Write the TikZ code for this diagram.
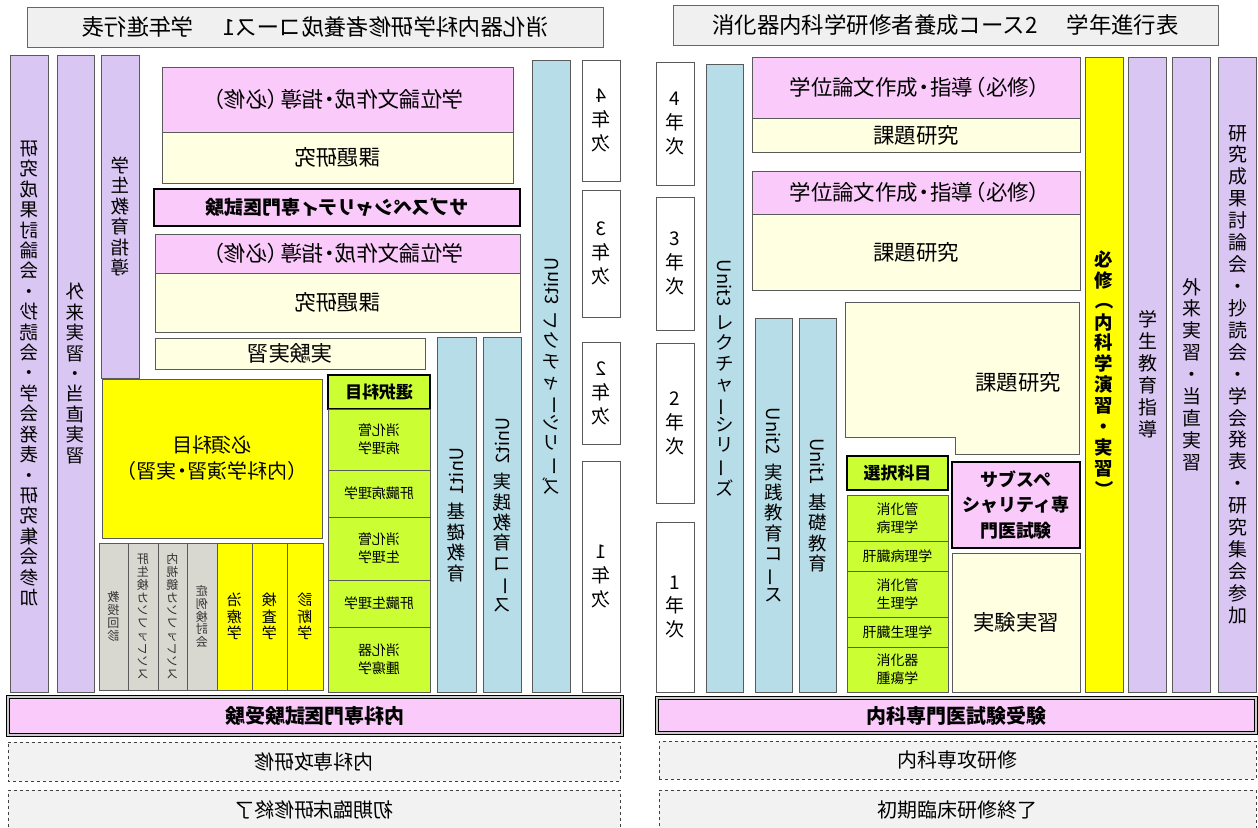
\documentclass[tikz,border=0pt]{standalone}
\usepackage{fontspec}
\setmainfont{Noto Sans CJK JP}
\usepackage{graphicx}
\definecolor{bd}{RGB}{90,90,90}
\definecolor{lav}{RGB}{218,198,242}
\definecolor{pk}{RGB}{250,202,250}
\definecolor{cr}{RGB}{255,255,226}
\definecolor{bl}{RGB}{183,221,232}
\definecolor{yl}{RGB}{255,255,0}
\definecolor{gr}{RGB}{204,255,51}
\definecolor{gy}{RGB}{216,216,208}
\definecolor{ttlc}{RGB}{240,240,240}
\newcommand\ft[2]{\fontsize{#1}{#2}\selectfont}
\newcommand\rl{\rotatebox[origin=c]{90}{ー}}
\newcommand\lp{\rotatebox[origin=c]{-90}{（}}
\newcommand\rp{\rotatebox[origin=c]{-90}{）}}
\newcommand\md{\makebox[0.55em][c]{・}}
\newcommand\hlp{\makebox[0.62em][r]{（}}
\newcommand\hrp{\makebox[0.62em][l]{）}}
\makeatletter
\def\vt@end{vt@end@marker}
\def\vt#1{\vbox{\lineskiplimit=0pt\lineskip=2pt\vt@loop#1\vt@end}}
\def\vt@loop#1{\ifx\vt@end#1\else\hbox to 2em{\hss#1\hss}\expandafter\vt@loop\fi}
\makeatother
\tikzset{
  bx/.style={draw=bd, line width=0.8bp, inner sep=0pt, outer sep=0pt, align=center, font=\ft{21.5}{25}},
  lav/.style={fill=lav}, pk/.style={fill=pk}, cr/.style={fill=cr}, bl/.style={fill=bl},
  yl/.style={fill=yl}, gr/.style={fill=gr}, gy/.style={fill=gy}, wh/.style={fill=white},
  ttl/.style={fill=ttlc, draw=black!60, font=\ft{22.5}{26}},
  thk/.style={draw=black, line width=2.6bp},
  dbl/.style={draw=black, line width=1.1bp, double=gray!40, double distance=1.2bp, font=\bfseries\ft{20}{23}},
  dsh/.style={dashed, draw=black!75, fill=black!5, font=\ft{20}{23}},
  mir/.style={xscale=-1},
  vf/.style={font=\ft{18.5}{20.5}},
  vfr/.style={font=\ft{19}{22}},
  yf/.style={font=\ft{19}{24}},
  hf/.style={font=\ft{21.5}{25}},
  gf/.style={font=\ft{14}{18}},
  sf/.style={font=\ft{12}{12.8}, text=black!80},
  yf2/.style={font=\ft{15}{16.5}},
  selbox/.style={gr, thk, font=\bfseries\ft{17}{20}},
}
\newcommand\B[7]{\node[bx,#6,minimum width={((#4)-(#2))*1bp},minimum height={((#5)-(#3))*1bp}] (#1) at ({((#2)+(#4))/2},{((#3)+(#5))/2}) {#7};}
\begin{document}
\begin{tikzpicture}[x=1bp,y=-1bp]
\useasboundingbox (0,0) rectangle (1258,828);
\clip (0,0) rectangle (1258,828);
\fill[white] (0,0) rectangle (1258,828);
% ================= RIGHT PANEL (course 2) =================
\B{tR}{673}{5}{1218}{45}{ttl}{消化器内科学研修者養成コース2\hspace{1.3em}学年進行表}
\B{y4R}{656}{62}{694}{185}{wh,yf}{\vt{4年次}}
\B{y3R}{656}{197}{694}{330}{wh,yf}{\vt{3年次}}
\B{y2R}{656}{343}{694}{503}{wh,yf}{\vt{2年次}}
\B{y1R}{656}{522}{694}{692}{wh,yf}{\vt{1年次}}
\B{u3R}{706}{64}{743}{692}{bl,vf}{\vt{{\rotatebox{-90}{Unit3\hspace{7bp}}}レクチャ{\rl}シリ{\rl}ズ}}
\B{u2R}{755}{318}{792}{692}{bl,vf}{\vt{{\rotatebox{-90}{Unit2\hspace{7bp}}}実践教育コ{\rl}ス}}
\B{u1R}{799}{318}{836}{692}{bl,vf}{\vt{{\rotatebox{-90}{Unit1\hspace{7bp}}}基礎教育}}
\B{p1R}{752}{57}{1080}{118}{pk,hf}{学位論文作成\md 指導\hlp 必修\hrp}
\B{k1R}{752}{118}{1080}{152}{cr,hf}{課題研究}
\B{p2R}{752}{171}{1080}{214}{pk,hf}{学位論文作成\md 指導\hlp 必修\hrp}
\B{k2R}{752}{214}{1080}{290}{cr,hf}{課題研究}
\draw[draw=bd, line width=0.8bp, fill=cr] (845,302) -- (1079,302) -- (1079,454) -- (955,454) -- (955,437) -- (845,437) -- cycle;
\node[font=\ft{21.5}{25}] (k3R) at (1018,382) {課題研究};
\B{sR}{847}{456}{948}{490}{selbox}{選択科目}
\B{g1R}{847}{495}{948}{541}{gr,gf}{消化管\\病理学}
\B{g2R}{847}{541}{948}{571}{gr,gf}{肝臓病理学}
\B{g3R}{847}{571}{948}{617}{gr,gf}{消化管\\生理学}
\B{g4R}{847}{617}{948}{647}{gr,gf}{肝臓生理学}
\B{g5R}{847}{647}{948}{692}{gr,gf}{消化器\\腫瘍学}
\B{ssR}{952}{462}{1080}{548}{pk,thk,font=\bfseries\ft{18}{26}}{サブスペ\\シャリティ専\\門医試験}
\B{jR}{952}{553}{1080}{692}{cr,hf}{実験実習}
\B{hR}{1085}{57}{1123}{692}{yl,font=\bfseries\ft{18.5}{21}}{\vt{必修{\lp}内科学演習・実習{\rp}}}
\B{l1R}{1129}{57}{1166}{692}{lav,vfr}{\vt{学生教育指導}}
\B{l2R}{1173}{57}{1210}{692}{lav,vfr}{\vt{外来実習・当直実習}}
\B{l3R}{1219}{57}{1256}{692}{lav,vfr}{\vt{研究成果討論会・抄読会・学会発表・研究集会参加}}
\B{eR}{657}{698}{1256}{733}{pk,dbl}{内科専門医試験受験}
\B{sR2}{659}{741}{1256}{779}{dsh}{内科専攻研修}
\B{iR}{659}{790}{1256}{830}{dsh}{初期臨床研修終了}
% ================= LEFT PANEL (course 1, mirrored) =================
\B{tL}{27}{7}{603}{47}{ttl,mir}{消化器内科学研修者養成コース1\hspace{1.3em}学年進行表}
\B{c1L}{10}{55}{48}{692}{lav,vf,mir}{\vt{研究成果討論会・抄読会・学会発表・研究集会参加}}
\B{c2L}{57}{55}{94}{692}{lav,vf,mir}{\vt{外来実習・当直実習}}
\B{c3L}{101}{55}{139}{378}{lav,vf,mir}{\vt{学生教育指導}}
\B{p1L}{162}{67}{513}{132}{pk,hf,mir}{学位論文作成\md 指導\hlp 必修\hrp}
\B{k1L}{162}{132}{513}{183}{cr,hf,mir}{課題研究}
\B{ssL}{154}{189}{520}{226}{pk,thk,mir,font=\bfseries\ft{19}{22}}{サブスペシャリティ専門医試験}
\B{p2L}{155}{234}{520}{273}{pk,hf,mir}{学位論文作成\md 指導\hlp 必修\hrp}
\B{k2L}{155}{273}{520}{332}{cr,hf,mir}{課題研究}
\B{jL}{155}{338}{425}{369}{cr,hf,mir}{実験実習}
\B{hL}{102}{379}{322}{538}{yl,mir,font=\ft{20}{26}}{必須科目\\\hlp 内科学演習\md 実習\hrp}
\B{sL}{328}{375}{430}{409}{selbox,mir}{選択科目}
\B{g1L}{328}{409}{430}{470}{gr,gf,mir}{消化管\\病理学}
\B{g2L}{328}{470}{430}{517}{gr,gf,mir}{肝臓病理学}
\B{g3L}{328}{517}{430}{580}{gr,gf,mir}{消化管\\生理学}
\B{g4L}{328}{580}{430}{627}{gr,gf,mir}{肝臓生理学}
\B{g5L}{328}{627}{430}{692}{gr,gf,mir}{消化器\\腫瘍学}
\B{m1L}{99}{543}{128}{690}{gy,sf,mir}{\vt{教授回診}}
\B{m2L}{128}{543}{158}{690}{gy,sf,mir}{\vt{肝生検カンファレンス}}
\B{m3L}{158}{543}{187}{690}{gy,sf,mir}{\vt{内視鏡カンファレンス}}
\B{m4L}{187}{543}{217}{690}{gy,sf,mir}{\vt{症例検討会}}
\B{m5L}{217}{543}{252}{690}{yl,yf2,mir}{\vt{治療学}}
\B{m6L}{252}{543}{287}{690}{yl,yf2,mir}{\vt{検査学}}
\B{m7L}{287}{543}{323}{690}{yl,yf2,mir}{\vt{診断学}}
\B{u1L}{437}{337}{476}{692}{bl,vf,mir}{\vt{{\rotatebox{-90}{Unit1\hspace{7bp}}}基礎教育}}
\B{u2L}{483}{337}{521}{692}{bl,vf,mir}{\vt{{\rotatebox{-90}{Unit2\hspace{7bp}}}実践教育コ{\rl}ス}}
\B{u3L}{532}{60}{570}{692}{bl,vf,mir}{\vt{{\rotatebox{-90}{Unit3\hspace{7bp}}}レクチャ{\rl}シリ{\rl}ズ}}
\B{y4L}{582}{60}{620}{181}{wh,yf,mir}{\vt{4年次}}
\B{y3L}{582}{190}{620}{317}{wh,yf,mir}{\vt{3年次}}
\B{y2L}{582}{342}{620}{444}{wh,yf,mir}{\vt{2年次}}
\B{y1L}{582}{461}{620}{692}{wh,yf,mir}{\vt{1年次}}
\B{eL}{8}{697}{622}{735}{pk,dbl,mir}{内科専門医試験受験}
\B{sL2}{8}{742}{620}{781}{dsh,mir}{内科専攻研修}
\B{iL}{8}{790}{620}{830}{dsh,mir}{初期臨床研修終了}
\end{tikzpicture}
\end{document}
